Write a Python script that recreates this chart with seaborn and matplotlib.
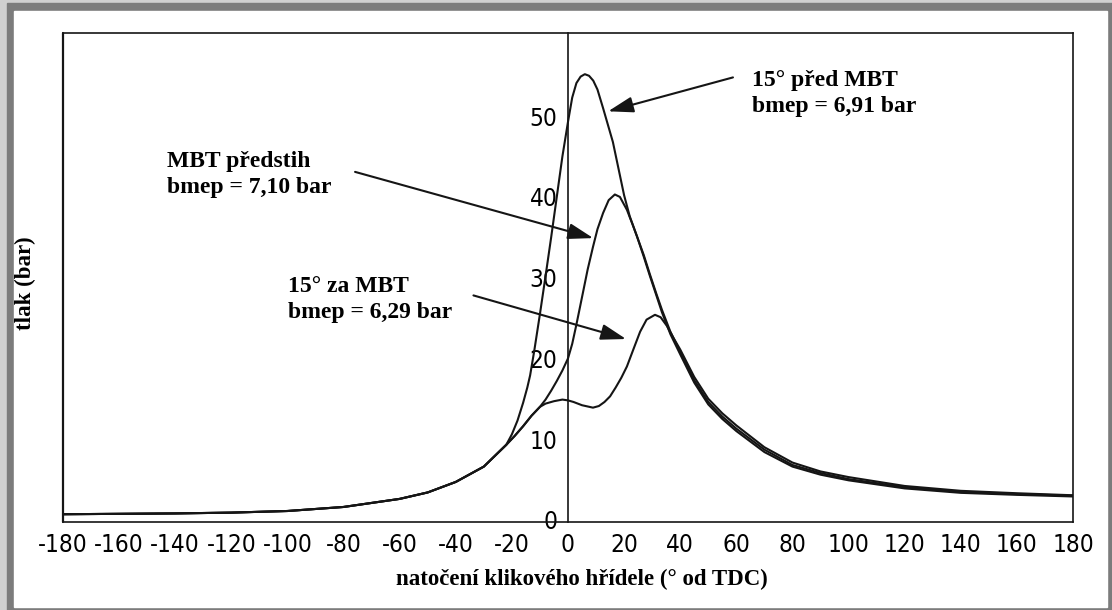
import numpy as np
import pandas as pd
import matplotlib
matplotlib.use("Agg")
import matplotlib.pyplot as plt
from matplotlib.patches import Rectangle
import seaborn as sns

# crank angle (deg from TDC) and cylinder pressure (bar)
adv_x = [-180, -160, -140, -120, -100, -80, -60, -50, -40, -30,
         -22, -20, -18, -16, -14.5, -13.5, -12, -10, -8, -6,
         -4, -2, 0, 1.5, 3, 4.5, 6, 7.5, 9, 10.5,
         12.5, 14, 16, 18, 20, 22, 24.6, 27, 29.2, 31.5,
         33.5, 36.5, 40, 45, 50, 55, 60, 70, 80, 90,
         100, 120, 140, 160, 180]
adv_p = [0.7, 0.75, 0.8, 0.9, 1.1, 1.6, 2.6, 3.4, 4.7, 6.6,
         9.3, 10.6, 12.3, 14.5, 16.4, 17.9, 21.0, 25.5, 30.2, 35.0,
         40.0, 45.0, 49.3, 52.3, 54.1, 54.9, 55.2, 55.0, 54.4, 53.3,
         51.0, 49.2, 46.8, 43.5, 40.2, 37.6, 35.1, 32.6, 30.2, 27.8,
         25.7, 23.0, 20.5, 17.0, 14.3, 12.5, 11.0, 8.4, 6.6, 5.6,
         4.9, 3.9, 3.35, 3.1, 2.9]

mbt_x = [-180, -160, -140, -120, -100, -80, -60, -50, -40, -30,
         -22, -19, -16, -13, -10, -8, -6, -4, -2, 0,
         1.5, 3, 5.3, 7, 8.9, 10.5, 12.5, 14.5, 16.7, 18.5,
         21, 23, 24.6, 27, 29.2, 31.5, 33.5, 36.5, 40, 45,
         50, 55, 60, 70, 80, 90, 100, 120, 140, 160,
         180]
mbt_p = [0.7, 0.75, 0.8, 0.9, 1.1, 1.6, 2.6, 3.4, 4.7, 6.6,
         9.3, 10.4, 11.6, 12.9, 14.0, 14.9, 16.0, 17.2, 18.5, 20.0,
         21.8, 24.2, 28.1, 31.0, 33.8, 36.0, 38.0, 39.6, 40.3, 40.0,
         38.4, 36.6, 35.1, 32.8, 30.4, 28.0, 26.0, 23.3, 20.8, 17.3,
         14.6, 12.8, 11.3, 8.7, 6.8, 5.8, 5.05, 4.05, 3.45, 3.2,
         3.0]

ret_x = [-180, -160, -140, -120, -100, -80, -60, -50, -40, -30,
         -22, -19, -16, -13, -10, -8, -5, -2, 0, 2,
         5, 8.9, 11, 13, 15, 17, 19, 21, 23.5, 25.7,
         28, 31, 33, 35.3, 37.5, 40, 45, 50, 55, 60,
         70, 80, 90, 100, 120, 140, 160, 180]
ret_p = [0.7, 0.75, 0.8, 0.9, 1.1, 1.6, 2.6, 3.4, 4.7, 6.6,
         9.3, 10.4, 11.6, 12.9, 14.0, 14.4, 14.7, 14.9, 14.8, 14.6,
         14.2, 13.9, 14.1, 14.6, 15.3, 16.4, 17.6, 19.0, 21.3, 23.3,
         24.8, 25.4, 25.1, 24.0, 22.6, 21.1, 17.7, 15.0, 13.2, 11.7,
         9.0, 7.1, 6.0, 5.3, 4.2, 3.6, 3.3, 3.05]

x_ticks = list(range(-180, 181, 20))
y_ticks = [0, 10, 20, 30, 40, 50]

labels = ["15° před MBT\nbmep = 6,91 bar",
          "MBT předstih\nbmep = 7,10 bar",
          "15° za MBT\nbmep = 6,29 bar"]
# left edge / baseline of the second text line
label_pos = [(65.6, 50.5), (-142.8, 40.5), (-99.7, 25.0)]
arrow_tail = [(58.8, 54.8), (-75.9, 43.1), (-33.7, 27.8)]
arrow_head = [(14.3, 50.6), (9.0, 34.9), (20.7, 22.4)]

df = pd.concat([
    pd.DataFrame({"uhel": adv_x, "tlak": adv_p, "krivka": "pred"}),
    pd.DataFrame({"uhel": mbt_x, "tlak": mbt_p, "krivka": "mbt"}),
    pd.DataFrame({"uhel": ret_x, "tlak": ret_p, "krivka": "za"}),
], ignore_index=True)

sns.set_style("white")
plt.rcParams["font.family"] = ["DejaVu Sans"]
plt.rcParams["font.stretch"] = "condensed"
plt.rcParams["axes.unicode_minus"] = False

ink = "#151515"
serif_bold = dict(family=["Liberation Serif", "DejaVu Serif"], weight="bold", stretch="normal")

fig = plt.figure(figsize=(11.12, 6.10), dpi=100)
# scanned picture frame
fig.patches.append(Rectangle((0, 0), 1, 1, transform=fig.transFigure, color="#d0d0d0", zorder=-3))
fig.patches.append(Rectangle((7 / 1112, 0), 1, 1 - 3 / 610, transform=fig.transFigure,
                             color="#7c7c7c", zorder=-2))
fig.patches.append(Rectangle((14 / 1112, 3 / 610), (1107 - 14) / 1112, (599 - 3) / 610,
                             transform=fig.transFigure, color="white", zorder=-1))

ax = fig.add_axes([63 / 1112, 1 - 521.5 / 610, (1073 - 63) / 1112, (521.5 - 33) / 610])
ax.set_facecolor("none")

sns.lineplot(data=df, x="uhel", y="tlak", hue="krivka", palette=[ink] * 3,
             legend=False, sort=False, estimator=None, lw=1.5, ax=ax)

ax.set_xlim(-180, 180)
ax.set_ylim(-0.2, 60.3)
ax.set_xticks(x_ticks)
ax.set_yticks(y_ticks)

for s in ["top", "bottom", "right", "left"]:
    ax.spines[s].set_color(ink)
    ax.spines[s].set_linewidth(1.2)
ax.spines["left"].set_position(("data", 0))
ax.axvline(-180, color=ink, lw=1.6, clip_on=False)

ax.tick_params(axis="x", direction="inout", length=9, width=1.1, color=ink,
               labelsize=17.5, pad=4, labelcolor="black")
ax.tick_params(axis="y", direction="inout", length=9, width=1.1, color=ink,
               labelsize=17.5, pad=3, labelcolor="black")

ax.set_xlabel("natočení klikového hřídele (° od TDC)", fontsize=16.5, color="black", **serif_bold)
ax.xaxis.set_label_coords(0.514, -0.097)
ax.set_ylabel("")
fig.text(25 / 1112, 1 - 283 / 610, "tlak (bar)", rotation=90, ha="center", va="center",
         fontsize=16.5, color="black", **serif_bold)

for txt, pos, tail, head in zip(labels, label_pos, arrow_tail, arrow_head):
    ax.text(pos[0], pos[1], txt, ha="left", va="baseline", fontsize=17,
            linespacing=1.3, color="black", **serif_bold)
    ax.annotate("", xy=head, xytext=tail,
                arrowprops=dict(arrowstyle="-|>,head_length=0.7,head_width=0.22",
                                lw=1.5, color=ink, shrinkA=0, shrinkB=0,
                                mutation_scale=22))

fig.savefig("out.png", dpi=100)
